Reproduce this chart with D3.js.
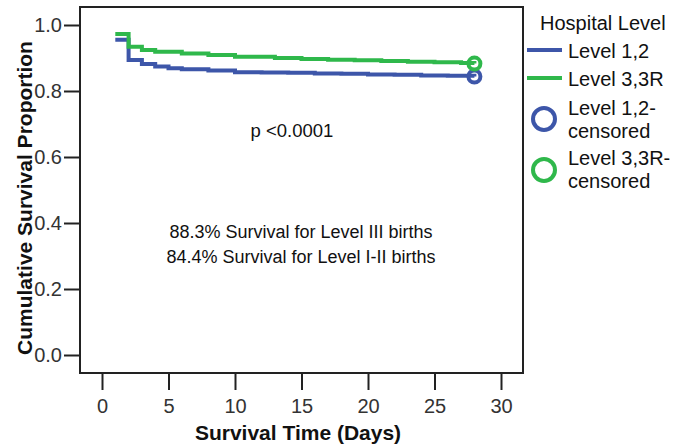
<!DOCTYPE html>
<html>
<head>
<meta charset="utf-8">
<script src="https://cdn.jsdelivr.net/npm/d3@7"></script>
<style>
  body { margin: 0; background: #fff; }
  text { font-family: "Liberation Sans", Arial, sans-serif; fill: #111; }
  .tick-label { font-family: "Liberation Sans Narrow", "Liberation Sans", Arial, sans-serif; fill: #333; }
</style>
</head>
<body>
<svg id="chart" width="688" height="445"></svg>
<script>
// Kaplan-Meier steps
const levelDays12 = [1, 2, 3, 4, 5, 6, 8, 10, 12, 14, 16, 18, 20, 22, 24, 26, 28];
const levelSurv12 = [0.955, 0.894, 0.882, 0.874, 0.869, 0.866, 0.862, 0.857, 0.856, 0.855, 0.853, 0.852, 0.850, 0.849, 0.847, 0.846, 0.844];
const levelDays3R = [1, 2, 3, 4, 6, 8, 10, 13, 15, 17, 19, 21, 23, 25, 27, 28];
const levelSurv3R = [0.973, 0.934, 0.924, 0.919, 0.914, 0.909, 0.904, 0.900, 0.897, 0.895, 0.893, 0.891, 0.889, 0.887, 0.885, 0.883];
const censorDay = 28;

const xTicks = [0, 5, 10, 15, 20, 25, 30];
const yTicks = [0, 0.2, 0.4, 0.6, 0.8, 1.0];

const seriesNames = ["Level 1,2", "Level 3,3R"];
const censorNames = [["Level 1,2-", "censored"], ["Level 3,3R-", "censored"]];
const colors = ["#3d56a9", "#2fb84b"];

const svg = d3.select('#chart');

const x = d3.scaleLinear().domain([0, 30]).range([102, 501]);
const y = d3.scaleLinear().domain([0, 1]).range([355, 25]);

// frame
svg.append('rect')
    .attr('x', 80).attr('y', 7)
    .attr('width', 443).attr('height', 366)
    .attr('fill', 'none').attr('stroke', '#222').attr('stroke-width', 2);

// y axis
const yAxis = svg.append('g').attr('transform', 'translate(80,0)')
    .call(d3.axisLeft(y).tickValues(yTicks).tickFormat(d3.format('.1f')).tickSize(16).tickPadding(2));
yAxis.select('.domain').remove();
yAxis.selectAll('line').attr('stroke', '#222').attr('stroke-width', 2);
yAxis.selectAll('text').attr('class', 'tick-label').style('font-size', '20px');

// x axis
const xAxis = svg.append('g').attr('transform', 'translate(0,373)')
    .call(d3.axisBottom(x).tickValues(xTicks).tickSize(17).tickPadding(9));
xAxis.select('.domain').remove();
xAxis.selectAll('line').attr('stroke', '#222').attr('stroke-width', 2);
xAxis.selectAll('text').attr('class', 'tick-label').style('font-size', '20px');

// axis titles
svg.append('text')
    .attr('transform', 'translate(32,198) rotate(-90)')
    .attr('text-anchor', 'middle')
    .style('font-size', '21px').style('font-weight', 'bold')
    .text('Cumulative Survival Proportion');

svg.append('text')
    .attr('x', 298).attr('y', 440)
    .attr('text-anchor', 'middle')
    .style('font-size', '21px').style('font-weight', 'bold')
    .text('Survival Time (Days)');

// curves
const line = d3.line()
    .x(d => x(d[0]))
    .y(d => y(d[1]))
    .curve(d3.curveStepAfter);

const curves = [
    d3.zip(levelDays12, levelSurv12),
    d3.zip(levelDays3R, levelSurv3R)
];

svg.append('g').selectAll('path')
    .data(curves)
    .join('path')
    .attr('d', line)
    .attr('fill', 'none')
    .attr('stroke', (d, i) => colors[i])
    .attr('stroke-width', 4);

// censor marks
svg.append('g').selectAll('circle')
    .data(curves)
    .join('circle')
    .attr('cx', x(censorDay))
    .attr('cy', d => y(d[d.length - 1][1]))
    .attr('r', 6)
    .attr('fill', 'none')
    .attr('stroke', (d, i) => colors[i])
    .attr('stroke-width', 4);

// annotations
svg.append('text')
    .attr('x', 292).attr('y', 137)
    .attr('text-anchor', 'middle')
    .style('font-size', '18.5px')
    .text('p <0.0001');

svg.append('text')
    .attr('x', 301).attr('y', 238)
    .attr('text-anchor', 'middle')
    .style('font-size', '18px')
    .text('88.3% Survival for Level III births');

svg.append('text')
    .attr('x', 301).attr('y', 263)
    .attr('text-anchor', 'middle')
    .style('font-size', '18px')
    .text('84.4% Survival for Level I-II births');

// legend
const legend = svg.append('g');
legend.append('text')
    .attr('x', 540).attr('y', 30)
    .style('font-size', '20px')
    .text('Hospital Level');

legend.selectAll('line')
    .data(seriesNames)
    .join('line')
    .attr('x1', 527).attr('x2', 562)
    .attr('y1', (d, i) => 50 + i * 28)
    .attr('y2', (d, i) => 50 + i * 28)
    .attr('stroke', (d, i) => colors[i])
    .attr('stroke-width', 4);

legend.selectAll('text.series')
    .data(seriesNames)
    .join('text')
    .attr('class', 'series')
    .attr('x', 568)
    .attr('y', (d, i) => 58 + i * 28)
    .style('font-size', '20px')
    .text(d => d);

legend.selectAll('circle')
    .data(censorNames)
    .join('circle')
    .attr('cx', 544)
    .attr('cy', (d, i) => 119 + i * 51)
    .attr('r', 11)
    .attr('fill', 'none')
    .attr('stroke', (d, i) => colors[i])
    .attr('stroke-width', 4);

legend.selectAll('text.censor')
    .data(censorNames)
    .join('text')
    .attr('class', 'censor')
    .attr('x', 568)
    .attr('y', (d, i) => 115 + i * 50)
    .style('font-size', '20px')
    .selectAll('tspan')
    .data(d => d)
    .join('tspan')
    .attr('x', 568)
    .attr('dy', (d, i) => i === 0 ? 0 : 23)
    .text(d => d);
</script>
</body>
</html>
